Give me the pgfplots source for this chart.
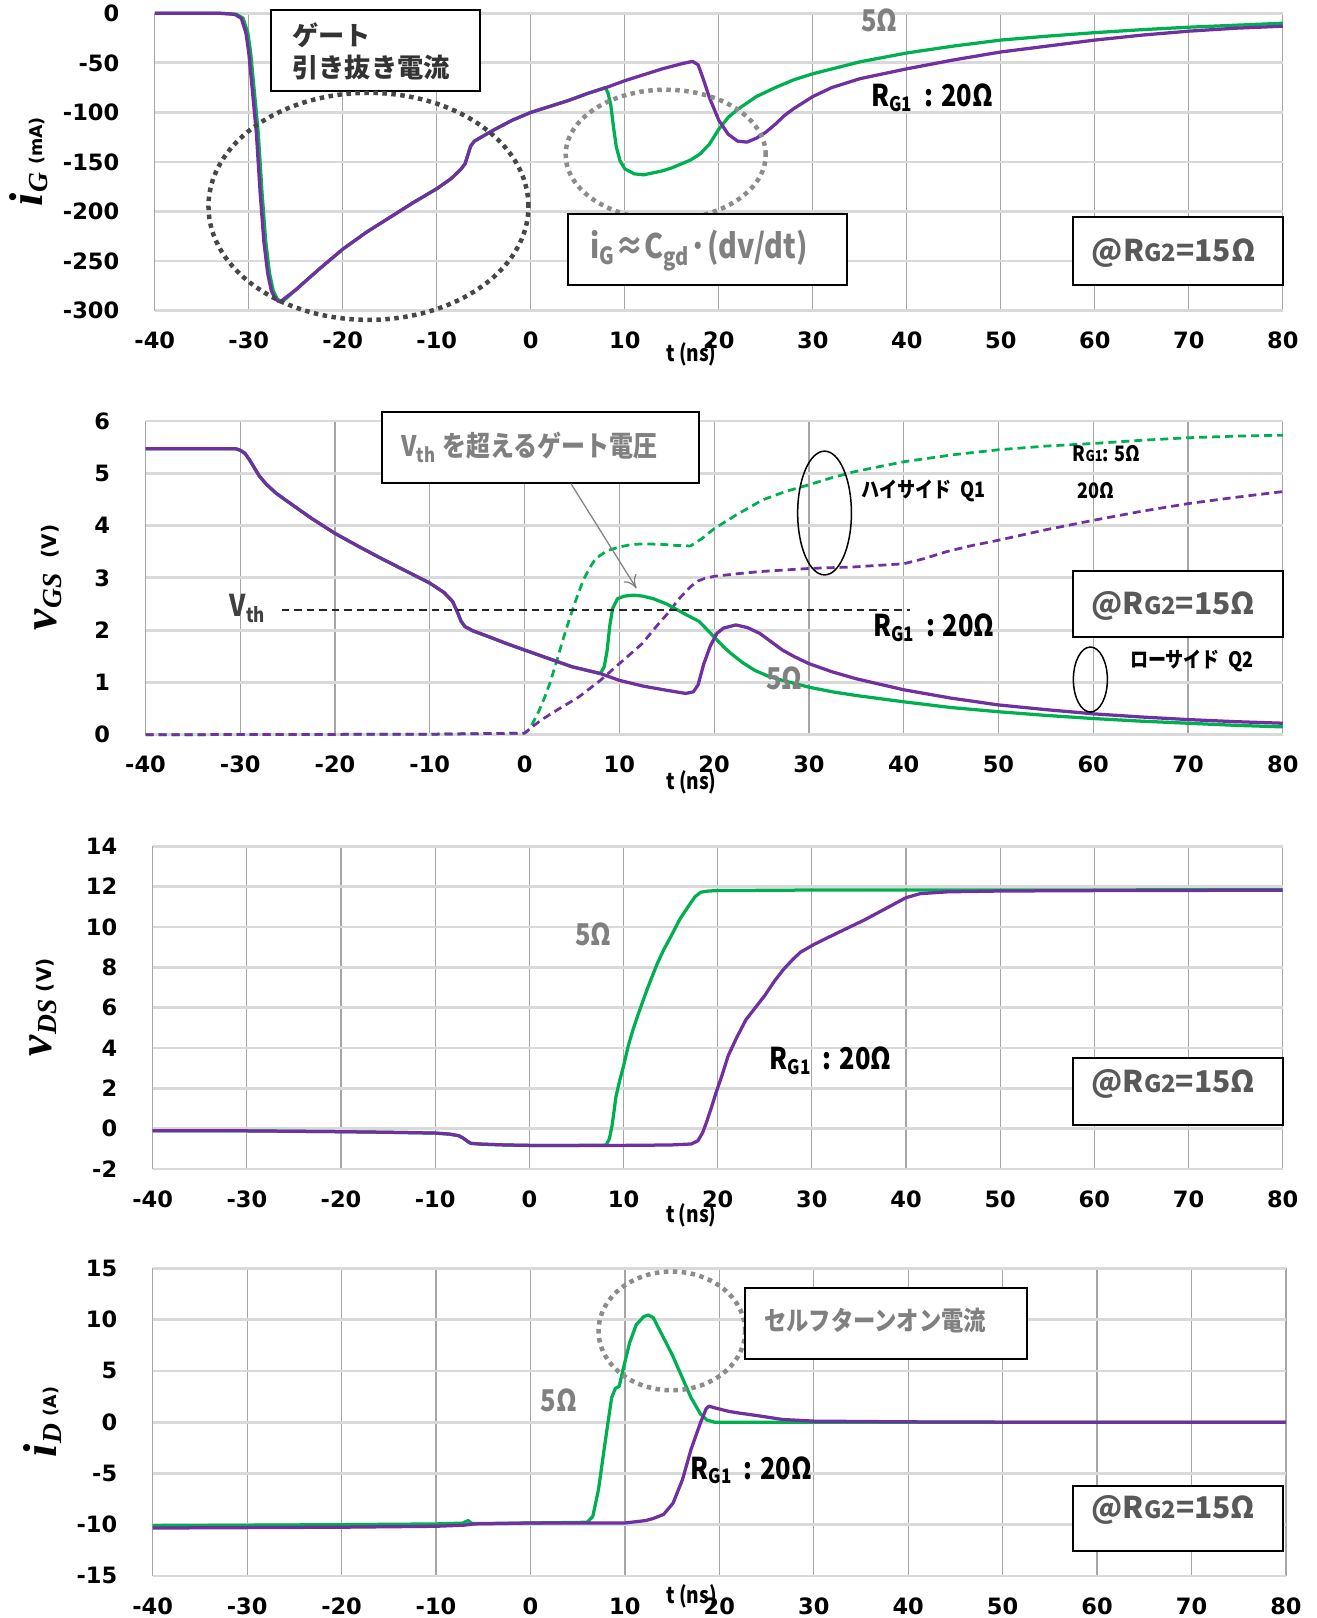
\documentclass[border=0pt]{standalone}
\usepackage{fontspec}
\setmainfont{DejaVu Sans}
\newfontfamily\jp{Noto Sans CJK JP}
\newfontfamily\cond{Noto Sans CJK JP}[FakeStretch=0.85]
\newfontfamily\serif{Liberation Serif}
\usepackage{pgfplots}
\pgfplotsset{compat=1.18}
\usetikzlibrary{shapes.geometric,arrows.meta}
\definecolor{cg}{HTML}{00B050}
\definecolor{cp}{HTML}{7030A0}
\definecolor{tg}{HTML}{808080}
\definecolor{dg}{HTML}{595959}
\newcommand\fs[1]{\fontsize{#1}{#1}\selectfont}
\newcommand\rgt{R\textsubscript{G1}\ \,: 20Ω}
\newcommand\rgb{@R{\fs{9.5}G2}=15Ω}
\pgfplotsset{panel/.style={
  scale only axis, anchor=south west, clip=false,
  xmin=-40, xmax=80, xtick={-40,-30,...,80},
  axis line style={draw=none},
  major tick length=0pt,
  grid=major,
  x grid style={color=black!35, line width=0.5pt},
  y grid style={color=black!15, line width=1.1pt},
  /pgf/number format/assume math mode=true,
  tick label style={font=\bfseries\fs{9}, inner sep=0pt},
  xticklabel style={anchor=center, yshift=-12pt},
  yticklabel style={anchor=east, xshift=-14pt},
  every axis plot/.append style={line width=1.3pt, line join=round},
}}
\tikzset{
dashedc/.style={line width=1.1pt, dash pattern=on 3.2pt off 2pt},
box/.style={draw=black, fill=white, line width=0.8pt},
dotell/.style={ellipse, inner sep=0pt, line width=1.8pt, dash pattern=on 1.8pt off 1.8pt},
ann/.style={font=\cond\bfseries\fs{12}},
small/.style={font=\cond\bfseries\fs{8.5}},
rgbox/.style={font=\jp\bfseries\fs{12}, text=dg},
}
\begin{document}
\begin{tikzpicture}
\useasboundingbox (0,0) rectangle (526.8pt,647.2pt);
% ---------------- Panel 1: iG
\begin{axis}[panel, at={(61.92pt,522.96pt)}, width=451.2pt, height=118.9pt,
  ymin=-300, ymax=0, ytick={-300,-250,...,0}]
\addplot[cg] coordinates {(-40,0) (-33,0) (-31.3,-1) (-30.6,-5) (-30.1,-20) (-29.8,-40) (-29.4,-80) (-29,-120) (-28.6,-180) (-28.2,-230) (-27.8,-262) (-27.4,-280) (-27,-288) (-26.6,-291) (-26.3,-290) (-25,-279) (-22.5,-258) (-20,-238) (-17.5,-221) (-15,-206) (-12.5,-191) (-10,-177) (-8.5,-167) (-7.5,-158) (-7,-152) (-6.7,-143) (-6.4,-134) (-6,-129) (-4,-118) (-2,-108) (0,-100) (2,-94) (4,-88) (6,-81) (7.9,-75) (8.2,-80) (8.5,-92) (8.8,-115) (9.1,-135) (9.5,-149) (10,-157) (11,-162) (12,-163) (13,-161) (14,-159) (15,-156) (16,-152) (17,-148) (18,-142) (19,-132) (20,-117) (21,-105) (22,-97) (24,-84) (26,-75) (28,-67) (30,-61) (35,-49) (40,-40) (45,-33) (50,-27) (55,-23) (60,-19.5) (65,-16.5) (70,-14) (75,-12) (80,-10)};
\addplot[cp] coordinates {(-40,0) (-33,0) (-31.5,-1) (-30.8,-5) (-30.3,-20) (-30,-40) (-29.6,-80) (-29.2,-120) (-28.8,-180) (-28.4,-230) (-28,-262) (-27.6,-280) (-27.2,-288) (-26.8,-291) (-26.5,-290) (-25,-279) (-22.5,-258) (-20,-238) (-17.5,-221) (-15,-206) (-12.5,-191) (-10,-177) (-8.5,-167) (-7.5,-158) (-7,-152) (-6.7,-143) (-6.4,-134) (-6,-129) (-4,-118) (-2,-108) (0,-100) (2,-94) (4,-88) (6,-81) (8,-75) (10,-68) (12,-62) (14,-56) (16,-51) (17.2,-48.5) (17.8,-52) (18.3,-65) (19,-85) (20,-108) (21,-122) (22,-129) (23,-130) (24,-126) (25,-120) (26,-112) (27,-103) (28,-96) (30,-84) (32,-75) (35,-66) (40,-56) (45,-47) (50,-39) (55,-33) (60,-27) (65,-22) (70,-18) (75,-15) (80,-13)};
\draw[box] (axis cs:-27.6,3) rectangle (axis cs:-5.4,-78);
\node[anchor=west, align=left, font=\jp\bfseries\fs{10.5}, text=black!80] at (axis cs:-26.3,-38.5) {ゲート\\[2pt]引き抜き電流};
\node[dotell, draw=black!72, minimum width=128pt, minimum height=90.8pt] at (axis cs:-17.27,-194.8) {};
\node[dotell, draw=black!45, minimum width=80pt, minimum height=52pt] at (axis cs:14.35,-142.7) {};
\draw[box] (axis cs:4.0,-203) rectangle (axis cs:33.6,-274);
\node[text=tg, font=\cond\bfseries\fs{13.5}] at (axis cs:17.9,-239.6) {i\textsubscript{G}≈C\textsubscript{gd}·(dv/dt)};
\node[ann, text=tg] at (axis cs:37.1,-7.3) {5Ω};
\node[ann] at (axis cs:42.7,-85) {\rgt};
\draw[box] (axis cs:57.7,-206) rectangle (axis cs:80,-274);
\node[rgbox] at (axis cs:68.4,-241.7) {\rgb};
\node[font=\cond\bfseries\fs{9}, yshift=-17.4pt] at (rel axis cs:0.4757,0) {t (ns)};
\node[rotate=90] at (rel axis cs:-0.1117,0.5) {{\serif\bfseries\itshape\fs{19}i\kern0.5pt\raisebox{-2pt}{\fs{11}G}}\kern3pt{\bfseries\fs{7}(mA)}};
\end{axis}
% ---------------- Panel 2: vGS
\begin{axis}[panel, at={(58.2pt,353.3pt)}, width=454.9pt, height=125.5pt,
  ymin=0, ymax=6, ytick={0,1,...,6}]
\addplot[cg, dashedc] coordinates {(-40,0) (-10,0.01) (0,0.03) (0.5,0.1) (1,0.27) (1.5,0.45) (2,0.66) (2.7,1.0) (3.4,1.42) (4.1,1.85) (4.8,2.25) (5.5,2.62) (6.2,2.96) (6.9,3.2) (7.5,3.37) (8.7,3.52) (10,3.59) (11.3,3.64) (12.7,3.65) (14.6,3.64) (16,3.62) (17.5,3.61) (18.7,3.75) (20,3.94) (22.3,4.2) (25.1,4.49) (27.5,4.65) (30,4.78) (32.5,4.92) (34.8,5.03) (37.5,5.13) (40,5.22) (45,5.35) (50,5.45) (55,5.52) (60,5.57) (65,5.63) (70,5.68) (75,5.71) (80,5.73)};
\addplot[cp, dashedc] coordinates {(-40,0) (-10,0.01) (0,0.03) (1,0.18) (2,0.31) (3.4,0.47) (5.7,0.72) (8,1.04) (10,1.36) (12.4,1.74) (13.8,2.05) (15.1,2.32) (16.3,2.6) (17.5,2.83) (18.3,2.94) (19,2.99) (20,3.03) (22.5,3.08) (24.8,3.12) (30,3.18) (34.8,3.21) (40,3.27) (42,3.36) (44.5,3.5) (47,3.61) (50,3.72) (55,3.92) (60,4.1) (65,4.27) (70,4.42) (75,4.54) (80,4.65)};
\addplot[cg] coordinates {(-40,5.47) (-30.5,5.47) (-30,5.44) (-29.5,5.38) (-29,5.25) (-28.5,5.1) (-28,4.95) (-27.3,4.8) (-26.3,4.63) (-25,4.46) (-22.5,4.14) (-20,3.85) (-17.5,3.6) (-15,3.36) (-12.5,3.13) (-10,2.9) (-8.5,2.72) (-7.6,2.55) (-7.1,2.35) (-6.7,2.17) (-6.3,2.07) (-5.5,1.99) (-4,1.89) (-2,1.75) (0,1.62) (2.5,1.46) (5,1.3) (8,1.17) (8.4,1.3) (8.7,1.6) (9.0,2.1) (9.3,2.42) (9.8,2.6) (10.5,2.65) (11.5,2.67) (12.5,2.65) (13.6,2.6) (15,2.5) (16,2.4) (17,2.3) (18.4,2.17) (19.2,2.02) (20,1.87) (21,1.68) (21.8,1.55) (23,1.38) (24.3,1.23) (25.7,1.12) (27.2,1.04) (30,0.91) (32.5,0.82) (35,0.75) (40,0.63) (45,0.52) (50,0.44) (55,0.37) (60,0.31) (65,0.26) (70,0.22) (75,0.18) (80,0.15)};
\addplot[cp] coordinates {(-40,5.47) (-30.5,5.47) (-30,5.44) (-29.5,5.38) (-29,5.25) (-28.5,5.1) (-28,4.95) (-27.3,4.8) (-26.3,4.63) (-25,4.46) (-22.5,4.14) (-20,3.85) (-17.5,3.6) (-15,3.36) (-12.5,3.13) (-10,2.9) (-8.5,2.72) (-7.6,2.55) (-7.1,2.35) (-6.7,2.17) (-6.3,2.07) (-5.5,1.99) (-4,1.89) (-2,1.75) (0,1.62) (2.5,1.46) (5,1.3) (8,1.17) (10,1.04) (12.5,0.93) (15,0.85) (17,0.79) (17.8,0.82) (18.3,0.95) (18.9,1.35) (19.6,1.7) (20.3,1.94) (21,2.04) (22.3,2.1) (23.5,2.05) (24.8,1.94) (26,1.78) (27.2,1.62) (28.5,1.49) (30,1.36) (32.5,1.2) (35,1.07) (40,0.86) (45,0.7) (50,0.57) (55,0.48) (60,0.40) (65,0.34) (70,0.29) (75,0.25) (80,0.22)};
\draw[black!85, line width=0.8pt, dash pattern=on 3pt off 2pt] (axis cs:-25.6,2.38) -- (axis cs:40.7,2.38);
\node[ann, text=black!75] at (axis cs:-29.2,2.41) {V\textsubscript{th}};
\draw[box] (axis cs:-15,6.18) rectangle (axis cs:18.4,4.82);
\node[text=tg, font=\cond\bfseries\fs{11.3}] at (axis cs:0.5,5.5) {V\textsubscript{th} を超えるゲート電圧};
\draw[tg, line width=0.5pt, -{To[length=5pt,width=6pt]}] (axis cs:4.9,4.8) -- (axis cs:11.8,2.8);
\node[ellipse, draw=black, line width=0.6pt, inner sep=0pt, minimum width=21.5pt, minimum height=49.5pt] at (axis cs:31.65,4.24) {};
\node[ellipse, draw=black, line width=0.6pt, inner sep=0pt, minimum width=13.6pt, minimum height=26pt] at (axis cs:59.7,1.056) {};
\node[small] at (axis cs:42.1,4.66) {ハイサイド\ \ Q1};
\node[small] at (axis cs:61.4,5.37) {R{\fs{6}G1}: 5Ω};
\node[small] at (axis cs:60.3,4.66) {20Ω};
\node[small] at (axis cs:70.4,1.42) {ローサイド\ \ Q2};
\draw[box] (axis cs:57.9,3.14) rectangle (axis cs:80,1.87);
\node[rgbox] at (axis cs:68.46,2.47) {\rgb};
\node[ann] at (axis cs:43.2,2.05) {\rgt};
\node[ann, text=tg] at (axis cs:27.4,1.07) {5Ω};
\node[font=\cond\bfseries\fs{9}, yshift=-19pt] at (rel axis cs:0.48,0) {t (ns)};
\node[rotate=90] at (rel axis cs:-0.0853,0.5) {{\serif\bfseries\itshape\fs{19}v\kern0.5pt\raisebox{-2pt}{\fs{11}GS}}\kern6pt{\bfseries\fs{8}(V)}};
\end{axis}
% ---------------- Panel 3: vDS
\begin{axis}[panel, at={(61.08pt,179.6pt)}, width=452.0pt, height=129.1pt,
  ymin=-2, ymax=14, ytick={-2,0,...,14}]
\addplot[cg] coordinates {(-40,-0.1) (-30,-0.11) (-20,-0.15) (-15,-0.18) (-10,-0.22) (-8.5,-0.27) (-7.5,-0.35) (-7,-0.48) (-6.5,-0.65) (-6.2,-0.73) (-5,-0.77) (-2.5,-0.81) (0,-0.83) (5,-0.83) (8,-0.82) (8.2,-0.78) (8.5,-0.5) (8.8,0.2) (9.2,1.6) (9.6,2.4) (10,3.1) (10.5,4.1) (11,4.9) (11.5,5.6) (12,6.25) (12.5,6.9) (13,7.5) (13.6,8.2) (14.3,8.9) (15,9.5) (16,10.4) (17,11.1) (17.6,11.5) (18.2,11.72) (19,11.78) (20,11.8) (30,11.83) (80,11.84)};
\addplot[cp] coordinates {(-40,-0.1) (-30,-0.11) (-20,-0.15) (-15,-0.18) (-10,-0.22) (-8.5,-0.27) (-7.5,-0.35) (-7,-0.48) (-6.5,-0.65) (-6.2,-0.73) (-5,-0.77) (-2.5,-0.81) (0,-0.83) (5,-0.83) (10,-0.83) (15,-0.81) (17.2,-0.76) (17.9,-0.6) (18.4,-0.2) (18.8,0.3) (19.3,1.0) (19.8,1.75) (20.5,2.7) (21.1,3.6) (22,4.5) (23,5.4) (24,6.0) (25,6.6) (26,7.3) (27,7.9) (28,8.4) (28.8,8.75) (30.3,9.15) (32.7,9.7) (35.6,10.35) (38,10.95) (40,11.45) (41.5,11.65) (44.4,11.74) (50,11.78) (60,11.8) (80,11.82)};
\node[ann, text=tg] at (axis cs:6.8,9.65) {5Ω};
\node[ann] at (axis cs:32.0,3.37) {\rgt};
\draw[box] (axis cs:57.75,3.52) rectangle (axis cs:80,0.2);
\node[rgbox] at (axis cs:68.4,2.24) {\rgb};
\node[font=\cond\bfseries\fs{9}, yshift=-18.7pt] at (rel axis cs:0.4767,0) {t (ns)};
\node[rotate=90] at (rel axis cs:-0.0968,0.5) {{\serif\bfseries\itshape\fs{19}v\kern0.5pt\raisebox{-2pt}{\fs{11}DS}}\kern3pt{\bfseries\fs{8}(V)}};
\end{axis}
% ---------------- Panel 4: iD
\begin{axis}[panel, at={(61.08pt,16.84pt)}, width=453.3pt, height=123pt,
  ymin=-15, ymax=15, ytick={-15,-10,...,15}]
\addplot[cg] coordinates {(-40,-10.1) (-20,-10.0) (-10,-9.93) (-7.2,-9.85) (-6.6,-9.6) (-6.2,-9.9) (0,-9.84) (6,-9.77) (6.6,-9.2) (7.2,-6.6) (7.8,-2.67) (8.2,-0.1) (8.6,2.4) (9.0,3.3) (9.4,3.5) (9.8,5.1) (10.5,7.75) (11.2,9.5) (12,10.3) (12.5,10.45) (13,10.2) (14,8.4) (15,6.6) (16,4.5) (17,2.4) (18,0.8) (18.7,0.2) (19.5,0) (80,0)};
\addplot[cp] coordinates {(-40,-10.33) (-20,-10.25) (-10,-10.16) (-7,-10.05) (-6,-9.93) (0,-9.84) (10,-9.84) (12.2,-9.6) (13,-9.4) (14.1,-9.0) (15.1,-7.9) (16.1,-5.6) (17.0,-2.67) (18,-0.07) (18.6,1.3) (18.9,1.56) (19.5,1.4) (21,1.05) (22,0.9) (24.3,0.6) (26.7,0.26) (30,0.1) (40,0.03) (50,0) (80,0)};
\node[dotell, draw=black!45, minimum width=58.6pt, minimum height=47.5pt] at (axis cs:14.97,8.9) {};
\draw[box] (axis cs:22.7,13.1) rectangle (axis cs:52.6,6.2);
\node[font=\cond\bfseries\fs{10.5}, text=tg] at (axis cs:36.5,9.96) {セルフターンオン電流};
\node[ann, text=tg] at (axis cs:3.0,2.1) {5Ω};
\node[ann] at (axis cs:23.4,-4.7) {\rgt};
\draw[box] (axis cs:57.5,-6.25) rectangle (axis cs:79.7,-12.6);
\node[rgbox] at (axis cs:68.1,-8.57) {\rgb};
\node[font=\cond\bfseries\fs{9}, yshift=-8.2pt] at (rel axis cs:0.4754,0) {t (ns)};
\node[rotate=90] at (rel axis cs:-0.0968,0.5) {{\serif\bfseries\itshape\fs{19}i\kern0.5pt\raisebox{-2pt}{\fs{11}D}}\kern3pt{\bfseries\fs{7}(A)}};
\end{axis}
\end{tikzpicture}
\end{document}
